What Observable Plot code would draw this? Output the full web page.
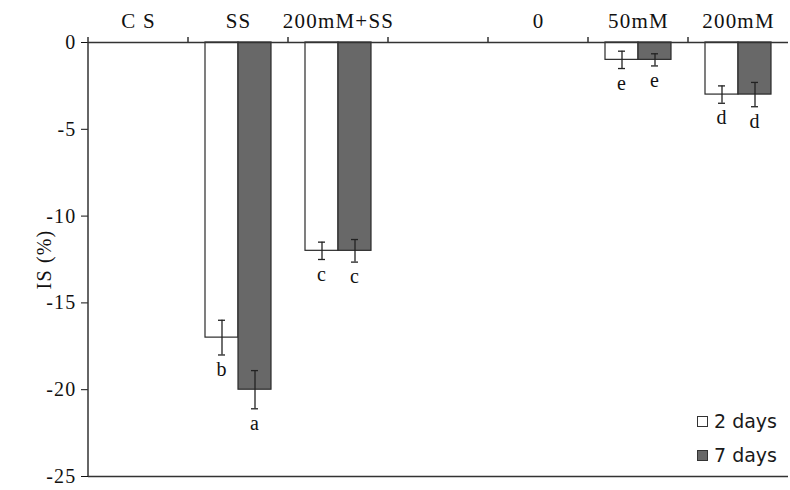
<!DOCTYPE html>
<html><head><meta charset="utf-8">
<script src="https://cdn.jsdelivr.net/npm/d3@7"></script>
<script src="https://cdn.jsdelivr.net/npm/@observablehq/plot@0.6"></script>
<style>
body{margin:0;background:#fff}
#wrap{position:relative;width:790px;height:490px}
#wrap svg text{letter-spacing:1.2px}
.legend{position:absolute;left:697px;top:404px;font-family:"DejaVu Sans",sans-serif;font-size:19px;color:#1a1a1a}
.legend .row{display:flex;align-items:center;height:34px}
.legend .sw{display:inline-block;width:9px;height:9px;border:1px solid #333;margin-right:6px}
</style></head><body><div id="wrap"></div>
<script>
const categories = ["C S", "SS", "200mM+SS", " ", "0", "50mM", "200mM"];
const series = ["2 days", "7 days"];
const barColors = ["#ffffff", "#686868"];
const groups = ["SS", "200mM+SS", "50mM", "200mM"];
const days2 = [-17, -12, -1, -3];
const days7 = [-20, -12, -1, -3];
const err2 = [1.0, 0.5, 0.5, 0.5];
const err7 = [1.1, 0.65, 0.35, 0.7];
const letters2 = ["b", "c", "e", "d"];
const letters7 = ["a", "c", "e", "d"];
const yTicks = [0, -5, -10, -15, -20, -25];
const yDomain = [-25, 0];

const rows = [];
groups.forEach((g, i) => {
  rows.push({cat: g, series: series[0], value: days2[i], err: err2[i], letter: letters2[i]});
  rows.push({cat: g, series: series[1], value: days7[i], err: err7[i], letter: letters7[i]});
});

const plot = Plot.plot({
  width: 790, height: 490,
  marginLeft: 86, marginRight: 0, marginTop: 42, marginBottom: 14,
  style: {fontFamily: '"Liberation Serif", serif', fontSize: "20px", color: "#111", background: "#fff"},
  fx: {domain: categories, padding: 0, axis: null},
  x: {domain: series, paddingInner: 0, paddingOuter: 0.49, axis: null},
  y: {domain: yDomain, axis: null},
  color: {domain: series, range: barColors},
  marks: [
    Plot.axisFx({anchor: "top", tickSize: 0, tickPadding: 15, label: null, fontSize: 21}),
    Plot.axisY({ticks: yTicks, tickSize: 7, tickPadding: 5, tickFormat: d => `${d}`, label: "IS (%)", labelAnchor: "center", labelArrow: "none", labelOffset: 52, fontSize: 20}),
    Plot.barY(rows, {fx: "cat", x: "series", y: "value", fill: "series", stroke: "#2a2a2a", strokeWidth: 1.2}),
    Plot.ruleX(rows, {fx: "cat", x: "series", y1: d => d.value - d.err, y2: d => d.value + d.err, stroke: "#222", strokeWidth: 1.3}),
    Plot.tickY(rows, {fx: "cat", x: "series", y: d => d.value - d.err, insetLeft: 13, insetRight: 13, stroke: "#222", strokeWidth: 1.3}),
    Plot.tickY(rows, {fx: "cat", x: "series", y: d => d.value + d.err, insetLeft: 13, insetRight: 13, stroke: "#222", strokeWidth: 1.3}),
    Plot.text(rows, {fx: "cat", x: "series", y: d => d.value - d.err, text: "letter", lineAnchor: "top", dy: 7, fill: "#111"}),
    Plot.ruleY(categories, {fx: d => d, y: () => yDomain[1], stroke: "#333", strokeWidth: 1.6}),
    Plot.ruleY(categories, {fx: d => d, y: () => yDomain[0], stroke: "#333", strokeWidth: 1.6})
  ]
});

// axis line and top band-boundary ticks, placed with Plot's own scales
const fx = plot.scale("fx"), y = plot.scale("y");
const g = d3.select(plot).append("g").attr("stroke", "#333").attr("stroke-width", 1.5).attr("fill", "none");
const x0 = fx.apply(categories[0]);
g.append("line").attr("x1", x0).attr("x2", x0).attr("y1", y.apply(yDomain[1])).attr("y2", y.apply(yDomain[0]));
categories.forEach(c => {
  const xx = fx.apply(c);
  g.append("line").attr("x1", xx).attr("x2", xx).attr("y1", y.apply(yDomain[1]) - 5).attr("y2", y.apply(yDomain[1]));
});

const wrap = document.getElementById("wrap");
wrap.appendChild(plot);
const legend = document.createElement("div");
legend.className = "legend";
series.forEach((s, i) => {
  const row = document.createElement("div");
  row.className = "row";
  const sw = document.createElement("span");
  sw.className = "sw";
  sw.style.background = barColors[i];
  row.appendChild(sw);
  row.appendChild(document.createTextNode(s));
  legend.appendChild(row);
});
wrap.appendChild(legend);
</script>
</body></html>
